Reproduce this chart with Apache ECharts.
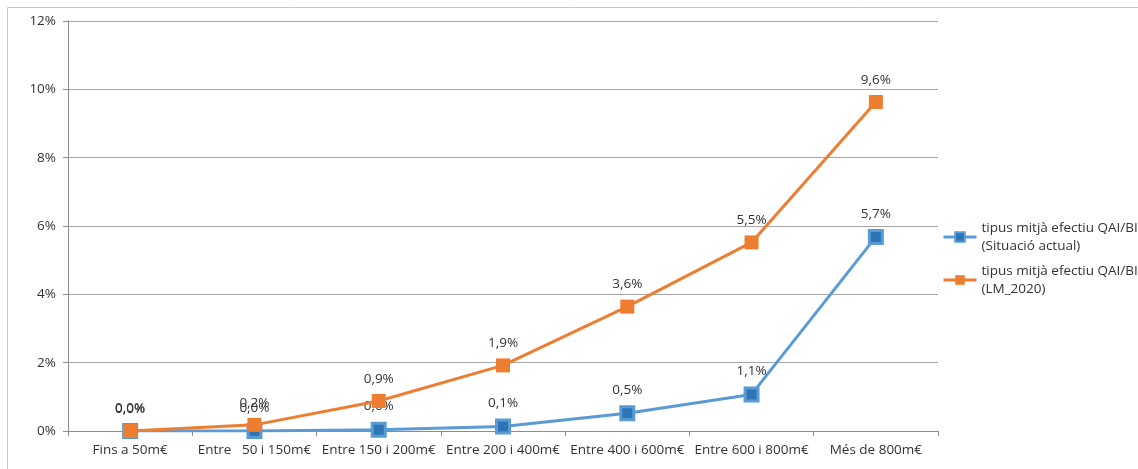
<!DOCTYPE html>
<html>
<head>
<meta charset="utf-8">
<script src="https://cdn.jsdelivr.net/npm/echarts@6/dist/echarts.min.js"></script>
<style>
  html, body { margin: 0; padding: 0; background: #fff; }
  #main { width: 1138px; height: 469px; }
</style>
</head>
<body>
<div id="main"></div>
<script>
// trams de base imposable
const categories = ['Fins a 50m€', 'Entre   50 i 150m€', 'Entre 150 i 200m€', 'Entre 200 i 400m€', 'Entre 400 i 600m€', 'Entre 600 i 800m€', 'Més de 800m€'];
// tipus mitjà efectiu (%)
const actualValues = [0.0, 0.0, 0.04, 0.13, 0.52, 1.07, 5.68];
const lm2020Values = [0.0, 0.18, 0.88, 1.92, 3.64, 5.52, 9.63];
const seriesNames = ['tipus mitjà efectiu QAI/BI\n(Situació actual)', 'tipus mitjà efectiu QAI/BI\n(LM_2020)'];

const font = 'Open Sans';
const txt = '#333333';
const fs = 13.5;

function pct(v) {
  return v.toFixed(1).replace('.', ',') + '%';
}

let chart = echarts.init(document.getElementById('main'));
let option = {
  backgroundColor: '#fff',
  textStyle: { fontFamily: font },
  graphic: [{
    type: 'rect',
    shape: { x: 7.5, y: 7.5, width: 1200, height: 500 },
    style: { fill: 'none', stroke: '#c8c8c8', lineWidth: 1 },
    silent: true,
    z: -1
  }],
  grid: { left: 68, right: 200, top: 21, bottom: 38 },
  legend: {
    orient: 'vertical',
    left: 937,
    top: 214,
    itemWidth: 33,
    itemHeight: 12,
    itemGap: 7,
    lineStyle: { width: 3 },
    textStyle: { fontFamily: font, fontSize: fs, color: txt, lineHeight: 18 },
    data: seriesNames
  },
  xAxis: {
    type: 'category',
    data: categories,
    boundaryGap: true,
    axisLine: { lineStyle: { color: '#8c8c8c', width: 1 } },
    axisTick: { show: true, length: 5, lineStyle: { color: '#8c8c8c' } },
    axisLabel: { color: txt, fontSize: fs, fontFamily: font, margin: 12, interval: 0 }
  },
  yAxis: {
    type: 'value',
    min: 0,
    max: 12,
    interval: 2,
    axisLine: { show: true, lineStyle: { color: '#8c8c8c', width: 1 } },
    axisTick: { show: true, length: 5, inside: false, lineStyle: { color: '#8c8c8c' } },
    splitLine: { lineStyle: { color: '#a6a6a6', width: 1 } },
    axisLabel: { color: txt, fontSize: fs, fontFamily: font, margin: 12, formatter: '{value}%' }
  },
  series: [{
    name: seriesNames[0],
    type: 'line',
    data: actualValues,
    symbol: 'rect',
    symbolSize: 13,
    color: '#5b9bd5',
    lineStyle: { color: '#5b9bd5', width: 3 },
    itemStyle: { color: '#2e75b6', borderColor: '#5b9bd5', borderWidth: 3 },
    label: {
      show: true,
      position: 'top',
      distance: 8,
      color: txt,
      fontSize: fs,
      fontFamily: font,
      formatter: p => pct(p.value)
    },
    z: 2
  }, {
    name: seriesNames[1],
    type: 'line',
    data: lm2020Values,
    symbol: 'rect',
    symbolSize: 14,
    color: '#ed7d31',
    lineStyle: { color: '#ed7d31', width: 3 },
    itemStyle: { color: '#ed7d31' },
    label: {
      show: true,
      position: 'top',
      distance: 8,
      color: txt,
      fontSize: fs,
      fontFamily: font,
      formatter: p => pct(p.value)
    },
    z: 3
  }]
};
chart.setOption(option);
</script>
</body>
</html>
